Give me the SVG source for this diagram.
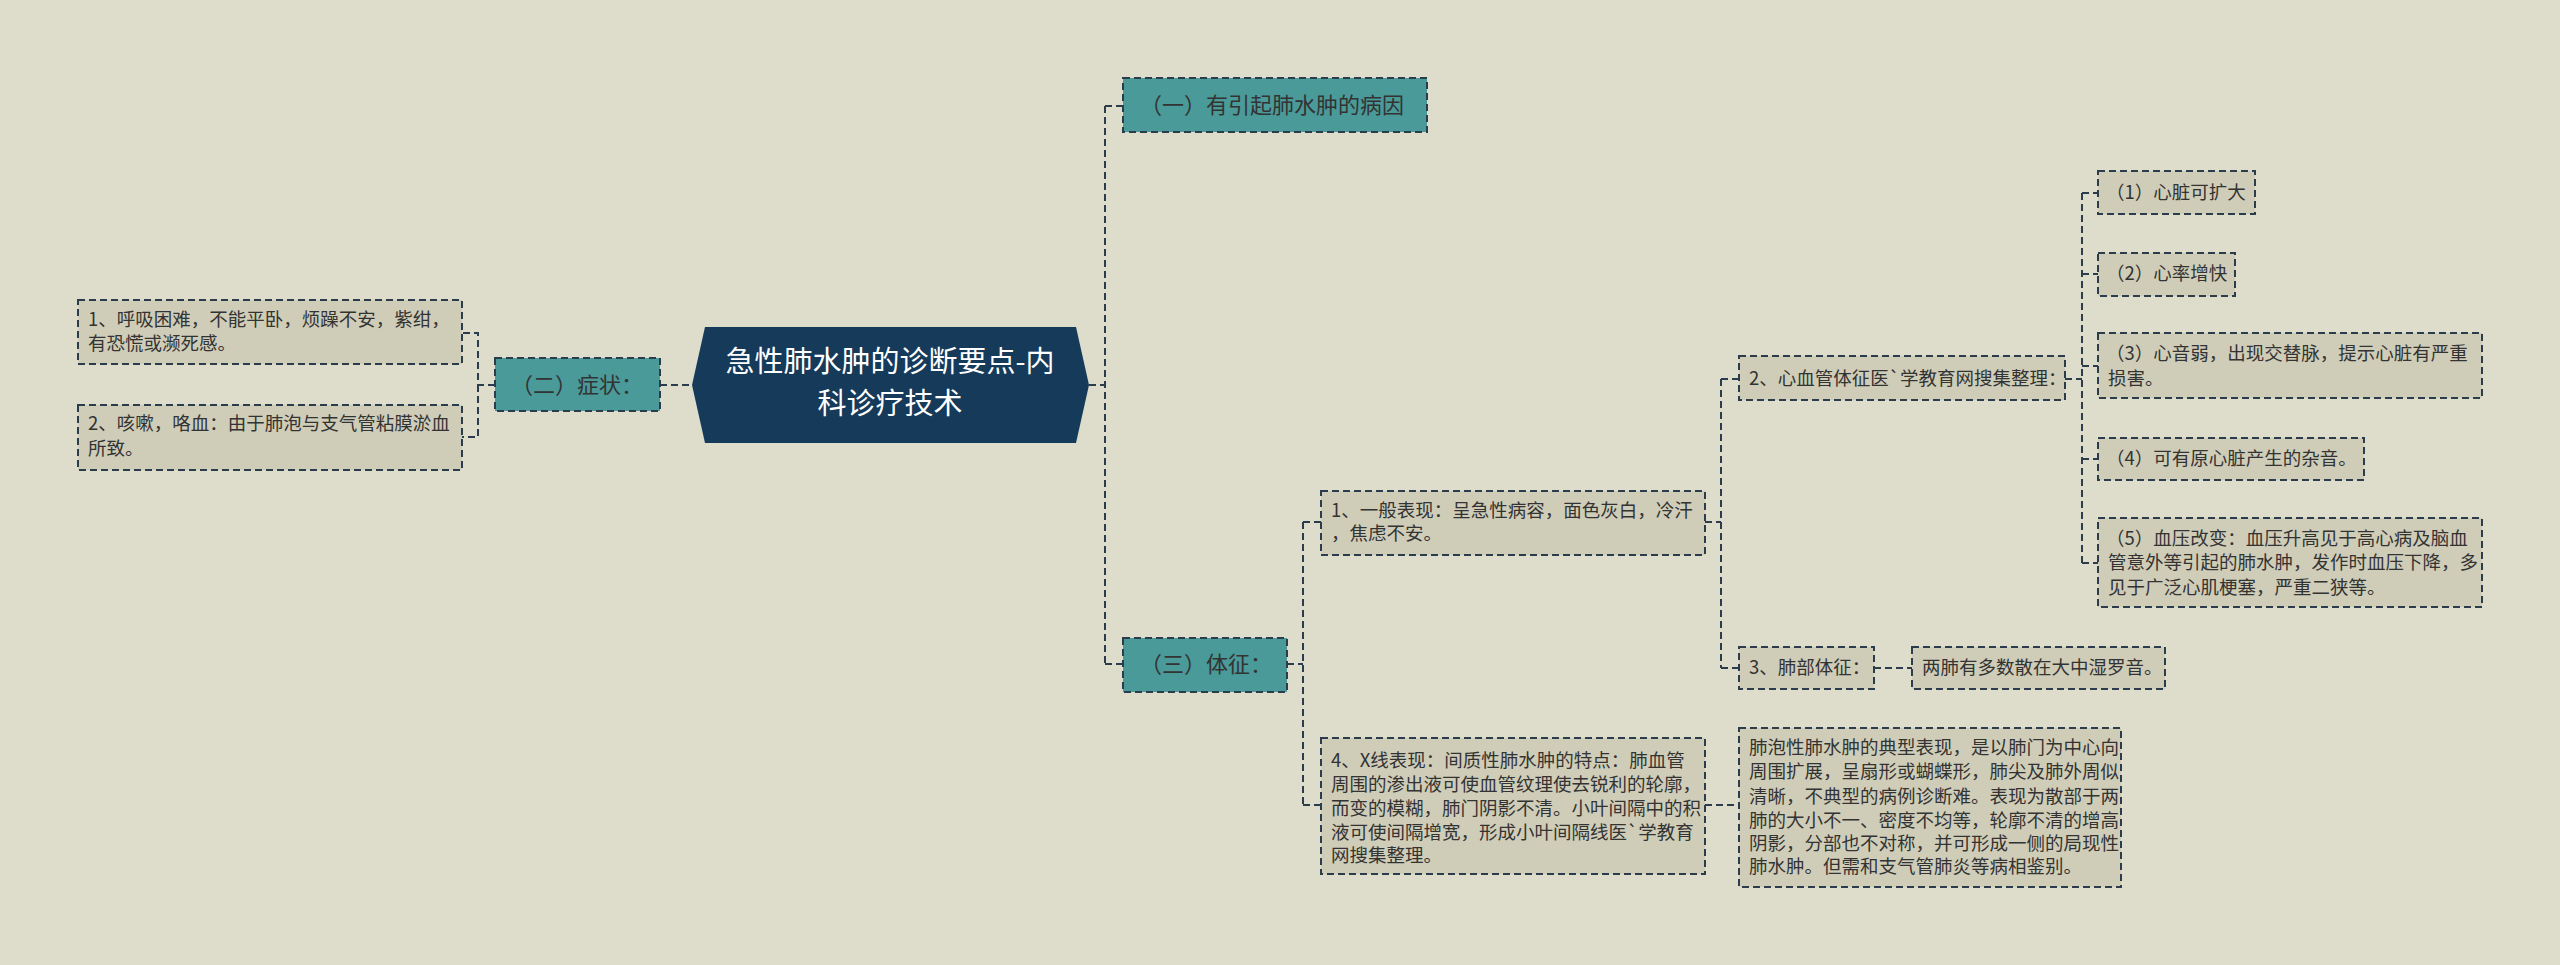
<svg xmlns="http://www.w3.org/2000/svg" width="2560" height="965" viewBox="0 0 2560 965">
<style>
text{font-family:"Noto Sans CJK SC","Liberation Sans",sans-serif;fill:#333;}
.leaf{fill:#cfcdb8;stroke:#2b3d4d;stroke-width:2;stroke-dasharray:7,4;}
.teal{fill:#4a9a9a;stroke:#2b3d4d;stroke-width:2;stroke-dasharray:7,4;}
.t{font-size:18.5px;}
.tt{font-size:22px;}
.c{fill:none;stroke:#2b3d4d;stroke-width:2;stroke-dasharray:7,4;}
</style>
<rect width="2560" height="965" fill="#deddcc"/>
<g id="connectors">
<path class="c" d="M660 385H692"/>
<path class="c" d="M495 385H478V333H462M478 385V437H462"/>
<path class="c" d="M1089 385H1105M1105 106V664M1105 106H1123M1105 664H1123"/>
<path class="c" d="M1287 664H1303M1303 522V805M1303 522H1321M1303 805H1321"/>
<path class="c" d="M1705 522H1721M1721 379V668M1721 379H1739M1721 668H1739"/>
<path class="c" d="M1874 668H1912M1705 805H1739"/>
<path class="c" d="M2065 379H2082M2082 193V563M2082 193H2098M2082 274H2098M2082 366H2098M2082 459H2098M2082 563H2098"/>
</g>
<g id="root">
<polygon points="692,385 705,327 1076,327 1089,385 1076,443 705,443" fill="#153a5a"/>
<text x="890" y="372" text-anchor="middle" font-size="29" style="fill:#fff">急性肺水肿的诊断要点-内</text>
<text x="890" y="414" text-anchor="middle" font-size="29" style="fill:#fff">科诊疗技术</text>
</g>
<g id="n2"><rect class="teal" x="495" y="358" width="165" height="53"/><text class="tt" x="577" y="393" text-anchor="middle">（二）症状：</text></g>
<g id="n2a"><rect class="leaf" x="78" y="300" width="384" height="64"/><text class="t" x="88" y="326">1、呼吸困难，不能平卧，烦躁不安，紫绀，</text><text class="t" x="88" y="350">有恐慌或濒死感。</text></g>
<g id="n2b"><rect class="leaf" x="78" y="405" width="384" height="65"/><text class="t" x="88" y="430">2、咳嗽，咯血：由于肺泡与支气管粘膜淤血</text><text class="t" x="88" y="455">所致。</text></g>
<g id="n1"><rect class="teal" x="1123" y="78" width="304" height="54"/><text class="tt" x="1140" y="113">（一）有引起肺水肿的病因</text></g>
<g id="n3"><rect class="teal" x="1123" y="638" width="164" height="54"/><text class="tt" x="1140" y="672">（三）体征：</text></g>
<g id="n31"><rect class="leaf" x="1321" y="491" width="384" height="64"/><text class="t" x="1331" y="517">1、一般表现：呈急性病容，面色灰白，冷汗</text><text class="t" x="1331" y="540">，焦虑不安。</text></g>
<g id="n34"><rect class="leaf" x="1321" y="738" width="384" height="136"/>
<text class="t" x="1331" y="767">4、X线表现：间质性肺水肿的特点：肺血管</text>
<text class="t" x="1331" y="791">周围的渗出液可使血管纹理使去锐利的轮廓，</text>
<text class="t" x="1331" y="815">而变的模糊，肺门阴影不清。小叶间隔中的积</text>
<text class="t" x="1331" y="839">液可使间隔增宽，形成小叶间隔线医`学教育</text>
<text class="t" x="1331" y="862">网搜集整理。</text></g>
<g id="n32"><rect class="leaf" x="1739" y="356" width="326" height="44"/><text class="t" x="1749" y="385">2、心血管体征医`学教育网搜集整理：</text></g>
<g id="n33"><rect class="leaf" x="1739" y="647" width="135" height="42"/><text class="t" x="1749" y="674">3、肺部体征：</text></g>
<g id="n33a"><rect class="leaf" x="1912" y="647" width="253" height="42"/><text class="t" x="1922" y="674">两肺有多数散在大中湿罗音。</text></g>
<g id="n34a"><rect class="leaf" x="1739" y="728" width="382" height="159"/>
<text class="t" x="1749" y="754">肺泡性肺水肿的典型表现，是以肺门为中心向</text>
<text class="t" x="1749" y="778">周围扩展，呈扇形或蝴蝶形，肺尖及肺外周似</text>
<text class="t" x="1749" y="803">清晰，不典型的病例诊断难。表现为散部于两</text>
<text class="t" x="1749" y="827">肺的大小不一、密度不均等，轮廓不清的增高</text>
<text class="t" x="1749" y="850">阴影，分部也不对称，并可形成一侧的局现性</text>
<text class="t" x="1749" y="873">肺水肿。但需和支气管肺炎等病相鉴别。</text></g>
<g id="h1"><rect class="leaf" x="2098" y="171" width="157" height="43"/><text class="t" x="2106" y="199">（1）心脏可扩大</text></g>
<g id="h2"><rect class="leaf" x="2098" y="253" width="137" height="43"/><text class="t" x="2106" y="280">（2）心率增快</text></g>
<g id="h3"><rect class="leaf" x="2098" y="333" width="384" height="65"/><text class="t" x="2106" y="360">（3）心音弱，出现交替脉，提示心脏有严重</text><text class="t" x="2108" y="385">损害。</text></g>
<g id="h4"><rect class="leaf" x="2098" y="438" width="266" height="42"/><text class="t" x="2106" y="465">（4）可有原心脏产生的杂音。</text></g>
<g id="h5"><rect class="leaf" x="2098" y="518" width="384" height="89"/><text class="t" x="2106" y="545">（5）血压改变：血压升高见于高心病及脑血</text><text class="t" x="2108" y="569">管意外等引起的肺水肿，发作时血压下降，多</text><text class="t" x="2108" y="594">见于广泛心肌梗塞，严重二狭等。</text></g>
</svg>
